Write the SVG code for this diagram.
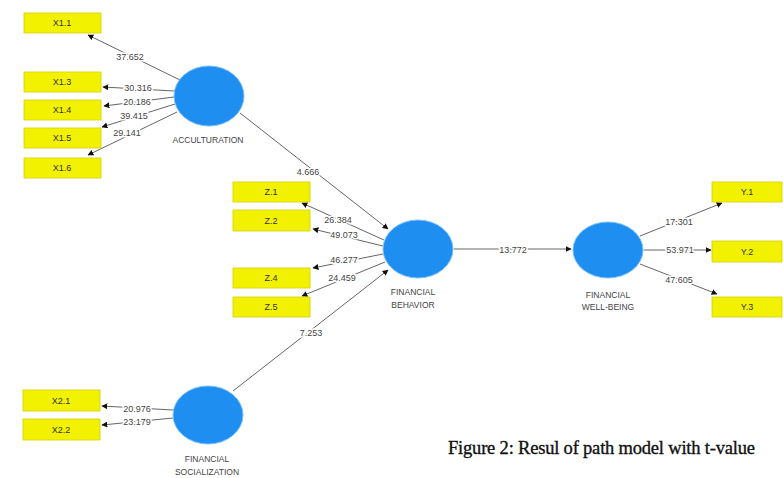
<svg xmlns="http://www.w3.org/2000/svg" width="783" height="478" viewBox="0 0 783 478">
  <style>
    .box { fill: #f2f200; stroke: #d8d000; stroke-width: 0.8; }
    .btxt { font-family: "Liberation Sans", Arial, sans-serif; font-size: 9px; fill: #333; text-anchor: middle; dominant-baseline: central; }
    .lv { fill: #1e8ef0; stroke: #7cc0ff; stroke-width: 1; }
    .ltxt { font-family: "Liberation Sans", Arial, sans-serif; font-size: 8.5px; fill: #444; text-anchor: middle; }
    .edge { stroke: #666; stroke-width: 1; fill: none; marker-end: url(#arr); }
    .num { font-family: "Liberation Sans", Arial, sans-serif; font-size: 9px; fill: #444; text-anchor: middle; dominant-baseline: central; paint-order: stroke; stroke: #fff; stroke-width: 3px; stroke-linejoin: round; }
    .cap { font-family: "Liberation Serif", "Times New Roman", serif; font-size: 18.5px; fill: #111; stroke: #111; stroke-width: 0.35; }
  </style>
  <defs>
    <marker id="arr" viewBox="0 0 10 10" refX="9" refY="5" markerWidth="6" markerHeight="6" markerUnits="userSpaceOnUse" orient="auto">
      <path d="M0,0 L10,5 L0,10 z" fill="#111"/>
    </marker>
  </defs>
  <rect width="783" height="478" fill="#fff"/>

  <!-- connectors -->
  <g id="connectors">
    <line class="edge" x1="180" y1="80" x2="88" y2="35"/>
    <line class="edge" x1="174" y1="91" x2="103" y2="87"/>
    <line class="edge" x1="174" y1="97" x2="104" y2="106"/>
    <line class="edge" x1="175" y1="104" x2="102" y2="127"/>
    <line class="edge" x1="177" y1="112" x2="88" y2="155"/>
    <line class="edge" x1="240" y1="113" x2="388" y2="229"/>
    <line class="edge" x1="384" y1="240" x2="302" y2="203"/>
    <line class="edge" x1="383" y1="246" x2="313" y2="229"/>
    <line class="edge" x1="383" y1="254" x2="313" y2="268"/>
    <line class="edge" x1="385" y1="262" x2="302" y2="296"/>
    <line class="edge" x1="233" y1="391" x2="388" y2="270"/>
    <line class="edge" x1="454" y1="249" x2="571" y2="249"/>
    <line class="edge" x1="640" y1="236" x2="722" y2="203"/>
    <line class="edge" x1="644" y1="250" x2="711" y2="250"/>
    <line class="edge" x1="640" y1="264" x2="717" y2="294"/>
    <line class="edge" x1="173" y1="410" x2="102" y2="406"/>
    <line class="edge" x1="173" y1="418" x2="102" y2="425"/>

    <text class="num" x="130" y="57">37.652</text>
    <text class="num" x="138" y="88">30.316</text>
    <text class="num" x="137" y="102">20.186</text>
    <text class="num" x="134" y="116">39.415</text>
    <text class="num" x="127" y="133">29.141</text>
    <text class="num" x="308" y="172">4.666</text>
    <text class="num" x="338" y="220">26.384</text>
    <text class="num" x="344" y="235">49.073</text>
    <text class="num" x="344" y="260">46.277</text>
    <text class="num" x="342" y="278">24.459</text>
    <text class="num" x="311" y="333">7.253</text>
    <text class="num" x="513" y="250">13.772</text>
    <text class="num" x="679" y="222">17.301</text>
    <text class="num" x="680" y="250">53.971</text>
    <text class="num" x="679" y="280">47.605</text>
    <text class="num" x="137" y="409">20.976</text>
    <text class="num" x="137" y="422">23.179</text>
  </g>

  <!-- indicators -->
  <g id="X1.1"><rect class="box" x="24" y="13" width="77" height="20"/><text class="btxt" x="62" y="23">X1.1</text></g>
  <g id="X1.3"><rect class="box" x="24" y="72" width="77" height="20"/><text class="btxt" x="62" y="82">X1.3</text></g>
  <g id="X1.4"><rect class="box" x="24" y="100" width="77" height="20"/><text class="btxt" x="62" y="110">X1.4</text></g>
  <g id="X1.5"><rect class="box" x="24" y="128" width="77" height="20"/><text class="btxt" x="62" y="138">X1.5</text></g>
  <g id="X1.6"><rect class="box" x="24" y="158" width="77" height="20"/><text class="btxt" x="62" y="168">X1.6</text></g>

  <g id="Z.1"><rect class="box" x="233" y="182" width="77" height="20"/><text class="btxt" x="271" y="192">Z.1</text></g>
  <g id="Z.2"><rect class="box" x="233" y="210" width="77" height="21"/><text class="btxt" x="271" y="220.5">Z.2</text></g>
  <g id="Z.4"><rect class="box" x="233" y="268" width="77" height="20"/><text class="btxt" x="271" y="278">Z.4</text></g>
  <g id="Z.5"><rect class="box" x="233" y="297" width="77" height="20"/><text class="btxt" x="271" y="307">Z.5</text></g>

  <g id="Y.1"><rect class="box" x="712" y="182" width="70" height="20"/><text class="btxt" x="747" y="192">Y.1</text></g>
  <g id="Y.2"><rect class="box" x="712" y="241" width="70" height="21"/><text class="btxt" x="747" y="251.5">Y.2</text></g>
  <g id="Y.3"><rect class="box" x="712" y="297" width="70" height="20"/><text class="btxt" x="747" y="307">Y.3</text></g>

  <g id="X2.1"><rect class="box" x="23" y="390" width="77" height="21"/><text class="btxt" x="61" y="400.5">X2.1</text></g>
  <g id="X2.2"><rect class="box" x="23" y="419" width="77" height="21"/><text class="btxt" x="61" y="429.5">X2.2</text></g>

  <!-- latent variables -->
  <g id="acculturation">
    <ellipse class="lv" cx="209" cy="96" rx="35" ry="30"/>
    <text class="ltxt" x="208" y="143">ACCULTURATION</text>
  </g>
  <g id="financial-behavior">
    <ellipse class="lv" cx="418" cy="249" rx="35" ry="29"/>
    <text class="ltxt" x="413" y="295">FINANCIAL</text>
    <text class="ltxt" x="413" y="308">BEHAVIOR</text>
  </g>
  <g id="financial-well-being">
    <ellipse class="lv" cx="608" cy="250" rx="35" ry="28"/>
    <text class="ltxt" x="608" y="298">FINANCIAL</text>
    <text class="ltxt" x="608" y="310">WELL-BEING</text>
  </g>
  <g id="financial-socialization">
    <ellipse class="lv" cx="208" cy="415" rx="35" ry="29"/>
    <text class="ltxt" x="207" y="462">FINANCIAL</text>
    <text class="ltxt" x="207" y="475">SOCIALIZATION</text>
  </g>

  <text class="cap" x="448" y="454" textLength="307">Figure 2: Resul of path model with t-value</text>
</svg>
